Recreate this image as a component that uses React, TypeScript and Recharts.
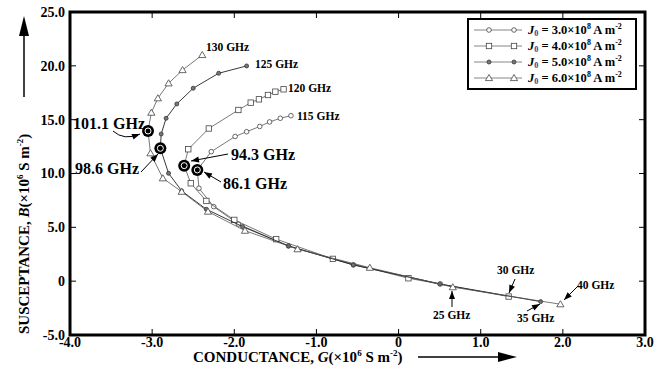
import React from "react";
import { ScatterChart, Scatter, XAxis, YAxis } from "recharts";

// conductance G / susceptance B (x10^6 S m^-2)
const G_J30 = [0.51, -0.55, -1.34, -1.95, -2.25, -2.43, -2.45, -2.28, -1.99, -1.85, -1.69, -1.57, -1.44, -1.31];
const B_J30 = [-0.26, 1.51, 3.27, 5.3, 6.92, 8.63, 10.33, 12.03, 13.44, 13.88, 14.37, 14.79, 15.13, 15.37];

const G_J40 = [1.34, 0.12, -0.8, -1.49, -2.0, -2.34, -2.53, -2.61, -2.56, -2.31, -1.95, -1.8, -1.7, -1.59, -1.5, -1.4];
const B_J40 = [-1.43, 0.27, 2.07, 3.9, 5.69, 7.45, 9.09, 10.73, 12.25, 14.18, 15.9, 16.58, 16.89, 17.29, 17.6, 17.82];

const G_J50 = [1.73, 0.5, -0.55, -1.34, -1.9, -2.34, -2.64, -2.8, -2.9, -2.89, -2.83, -2.7, -2.5, -2.19, -1.85];
const B_J50 = [-1.9, -0.26, 1.51, 3.27, 5.07, 6.68, 8.38, 10.02, 12.34, 13.67, 15.13, 16.46, 17.92, 19.31, 19.99];

const G_J60 = [1.97, 0.66, -0.35, -1.23, -1.87, -2.32, -2.64, -2.87, -3.02, -3.05, -3.01, -2.93, -2.8, -2.63, -2.39];
const B_J60 = [-2.14, -0.56, 1.25, 2.97, 4.69, 6.46, 8.31, 9.56, 11.88, 13.95, 15.65, 16.99, 18.38, 19.61, 21.01];

// turning points (bullseye markers)
const G_TURN = [-3.05, -2.9, -2.61, -2.45];
const B_TURN = [13.95, 12.34, 10.73, 10.33];

const X_TICKS = [-4, -3, -2, -1, 0, 1, 2, 3];
const Y_TICKS = [-5, 0, 5, 10, 15, 20, 25];
const J_LABELS = ["3.0", "4.0", "5.0", "6.0"];

const W = 661;
const H = 372;
const PL = 70;
const PR = 645;
const PT = 12;
const PB = 335;
const FONT = "'Liberation Serif', 'DejaVu Serif', serif";

const px = (g: number) => PL + ((g + 4) * (PR - PL)) / 7;
const py = (b: number) => PT + ((25 - b) * (PB - PT)) / 30;

const zip = (g: number[], b: number[]) => g.map((v, i) => ({ g: v, b: b[i] }));

const LINE_COLOR = "#555";

function Circ(p: any) {
  return <circle cx={p.cx} cy={p.cy} r={2.3} fill="#fff" stroke="#444" strokeWidth={0.8} />;
}
function Sq(p: any) {
  return <rect x={p.cx - 2.7} y={p.cy - 2.7} width={5.4} height={5.4} fill="#fff" stroke="#444" strokeWidth={0.8} />;
}
function Dot(p: any) {
  return <circle cx={p.cx} cy={p.cy} r={2} fill="#777" stroke="#333" strokeWidth={0.8} />;
}
function Tri(p: any) {
  const { cx, cy } = p;
  return (
    <path
      d={`M${cx},${cy - 3.5} L${cx + 3.6},${cy + 2.6} L${cx - 3.6},${cy + 2.6} Z`}
      fill="#fff"
      stroke="#444"
      strokeWidth={0.8}
    />
  );
}
function Bull(p: any) {
  return (
    <g>
      <circle cx={p.cx} cy={p.cy} r={6} fill="#000" />
      <circle cx={p.cx} cy={p.cy} r={3} fill="none" stroke="#fff" strokeWidth={1} />
      <circle cx={p.cx} cy={p.cy} r={1.2} fill="#000" />
    </g>
  );
}

const MARKERS = [Circ, Sq, Dot, Tri];

function LegendBox() {
  return (
    <div
      style={{
        position: "absolute",
        left: 467,
        top: 18,
        border: "2px solid #000",
        background: "#fff",
        padding: "2px 4px 2px 3px",
        fontFamily: FONT,
        fontWeight: "bold",
        fontSize: 12.5,
        width: 170,
        boxSizing: "border-box",
      }}
    >
      {J_LABELS.map((j, i) => {
        const M = MARKERS[i];
        return (
          <div key={j} style={{ display: "flex", alignItems: "center", height: 16, lineHeight: "14px" }}>
            <svg width={52} height={12}>
              <line x1={2} y1={6} x2={50} y2={6} stroke="#888" strokeWidth={1.2} />
              <M cx={17} cy={6} />
              <M cx={42} cy={6} />
            </svg>
            <span style={{ marginLeft: 4, whiteSpace: "nowrap" }}>
              <i>J</i>
              <sub style={{ fontSize: 8, color: "#1f3f8f", verticalAlign: -2 }}>0</sub> = {j}×10
              <sup style={{ fontSize: 8, verticalAlign: 5 }}>8</sup> A m
              <sup style={{ fontSize: 8, verticalAlign: 5 }}>-2</sup>
            </span>
          </div>
        );
      })}
    </div>
  );
}

function Arrow({ d, tip, from }: { d: string; tip: [number, number]; from: [number, number] }) {
  const ang = Math.atan2(tip[1] - from[1], tip[0] - from[0]);
  const L = 8;
  const Wd = 3;
  const bx = tip[0] - L * Math.cos(ang);
  const by = tip[1] - L * Math.sin(ang);
  const p1 = [bx + Wd * Math.sin(ang), by - Wd * Math.cos(ang)];
  const p2 = [bx - Wd * Math.sin(ang), by + Wd * Math.cos(ang)];
  return (
    <g>
      <path d={d} fill="none" stroke="#000" strokeWidth={1} />
      <path d={`M${tip[0]},${tip[1]} L${p1[0]},${p1[1]} L${p2[0]},${p2[1]} Z`} fill="#000" />
    </g>
  );
}

function Overlay() {
  const big = { fontFamily: FONT, fontWeight: "bold" as const, fontSize: 16 };
  const small = { fontFamily: FONT, fontWeight: "bold" as const, fontSize: 11.5 };
  return (
    <svg width={W} height={H} style={{ position: "absolute", left: 0, top: 0, pointerEvents: "none" }}>
      {/* frame */}
      <rect x={PL} y={PT} width={PR - PL} height={PB - PT} fill="none" stroke="#000" strokeWidth={3} />
      {X_TICKS.slice(1, -1).map((t) => (
        <g key={"xt" + t}>
          <line x1={px(t)} x2={px(t)} y1={PB} y2={PB - 6} stroke="#000" />
          <line x1={px(t)} x2={px(t)} y1={PT} y2={PT + 6} stroke="#000" />
        </g>
      ))}
      {Y_TICKS.slice(1, -1).map((t) => (
        <g key={"yt" + t}>
          <line x1={PL} x2={PL + 6} y1={py(t)} y2={py(t)} stroke="#000" />
          <line x1={PR} x2={PR - 6} y1={py(t)} y2={py(t)} stroke="#000" />
        </g>
      ))}

      {/* end labels */}
      <text x={206} y={51} style={small}>130 GHz</text>
      <text x={255} y={68} style={small}>125 GHz</text>
      <text x={288} y={92} style={small}>120 GHz</text>
      <text x={297} y={120} style={small}>115 GHz</text>

      {/* turning point labels */}
      <text x={73} y={129} style={big}>101.1 GHz</text>
      <Arrow d="M113,131 Q124,141 140,134" from={[124, 140]} tip={[140, 134]} />
      <text x={75} y={174} style={big}>98.6 GHz</text>
      <Arrow d="M141,172 L158,154" from={[141, 172]} tip={[158, 154]} />
      <text x={231} y={160} style={big}>94.3 GHz</text>
      <Arrow d="M228,154 L191,161" from={[228, 154]} tip={[191, 161]} />
      <text x={223} y={189} style={big}>86.1 GHz</text>
      <Arrow d="M221,182 L204,172" from={[221, 182]} tip={[204, 172]} />

      {/* start labels */}
      <text x={497} y={274} style={small}>30 GHz</text>
      <Arrow d="M515,279 L509,293" from={[515, 279]} tip={[509, 293]} />
      <text x={433} y={319} style={small}>25 GHz</text>
      <Arrow d="M452,307 L452,291" from={[452, 307]} tip={[452, 291]} />
      <text x={517} y={322} style={small}>35 GHz</text>
      <Arrow d="M527,311 L540,304" from={[527, 311]} tip={[540, 304]} />
      <text x={577} y={289} style={small}>40 GHz</text>
      <Arrow d="M578,286 L564,300" from={[578, 286]} tip={[564, 300]} />

      {/* axis titles */}
      <text x={193} y={362} style={{ fontFamily: FONT, fontWeight: "bold", fontSize: 15 }}>
        CONDUCTANCE, <tspan fontStyle="italic">G</tspan>(×10<tspan fontSize={9} dy={-6}>6</tspan>
        <tspan dy={6}> S m</tspan>
        <tspan fontSize={9} dy={-6}>-2</tspan>
        <tspan dy={6}>)</tspan>
      </text>
      <line x1={418} y1={357} x2={500} y2={357} stroke="#000" strokeWidth={1.5} />
      <path d="M517,357 L498,352 L498,362 Z" fill="#000" />

      <g transform="translate(29,334) rotate(-90)">
        <text x={0} y={0} style={{ fontFamily: FONT, fontWeight: "bold", fontSize: 15 }}>
          SUSCEPTANCE, <tspan fontStyle="italic">B</tspan>(×10<tspan fontSize={9} dy={-6}>6</tspan>
          <tspan dy={6}> S m</tspan>
          <tspan fontSize={9} dy={-6}>-2</tspan>
          <tspan dy={6}>)</tspan>
        </text>
      </g>
      <line x1={24} y1={97} x2={24} y2={34} stroke="#000" strokeWidth={1.5} />
      <path d="M24,16 L19,36 L29,36 Z" fill="#000" />
    </svg>
  );
}

const tickStyle = { fill: "#000", fontFamily: FONT, fontWeight: "bold", fontSize: 14 };

export default function App() {
  return (
    <div style={{ position: "relative", width: W, height: H }}>
      <style>{`body{margin:0;background:#fff}`}</style>
      <ScatterChart width={W} height={H} margin={{ top: PT, right: W - PR, bottom: 12, left: 20 }}>
        <XAxis
          type="number"
          dataKey="g"
          domain={[-4, 3]}
          ticks={X_TICKS}
          tickFormatter={(v: number) => (v === 0 ? "0" : v.toFixed(1))}
          tick={tickStyle}
          tickLine={false}
          axisLine={false}
          height={25}
          tickSize={0}
          tickMargin={2}
          allowDataOverflow
        />
        <YAxis
          type="number"
          dataKey="b"
          domain={[-5, 25]}
          ticks={Y_TICKS}
          tickFormatter={(v: number) => (v === 0 ? "0" : v.toFixed(1))}
          tick={tickStyle}
          tickLine={false}
          axisLine={false}
          width={50}
          tickSize={0}
          tickMargin={5}
          allowDataOverflow
        />
        <Scatter
          name="J3"
          data={zip(G_J30, B_J30)}
          line={{ stroke: LINE_COLOR, strokeWidth: 0.8 }}
          lineType="joint"
          shape={Circ}
          isAnimationActive={false}
        />
        <Scatter
          name="J4"
          data={zip(G_J40, B_J40)}
          line={{ stroke: LINE_COLOR, strokeWidth: 0.8 }}
          lineType="joint"
          shape={Sq}
          isAnimationActive={false}
        />
        <Scatter
          name="J5"
          data={zip(G_J50, B_J50)}
          line={{ stroke: "#222", strokeWidth: 0.9 }}
          lineType="joint"
          shape={Dot}
          isAnimationActive={false}
        />
        <Scatter
          name="J6"
          data={zip(G_J60, B_J60)}
          line={{ stroke: LINE_COLOR, strokeWidth: 0.8 }}
          lineType="joint"
          shape={Tri}
          isAnimationActive={false}
        />
        <Scatter name="turn" data={zip(G_TURN, B_TURN)} shape={Bull} isAnimationActive={false} />
      </ScatterChart>
      <Overlay />
      <LegendBox />
    </div>
  );
}
